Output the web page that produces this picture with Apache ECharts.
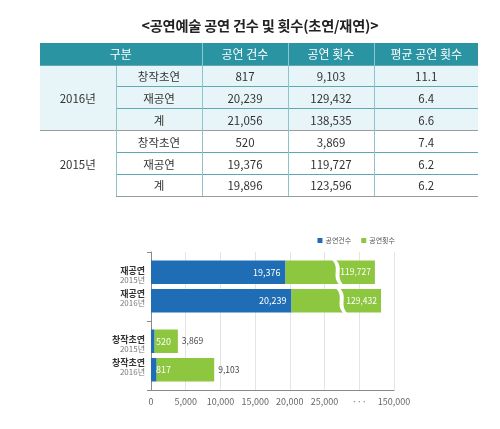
<!DOCTYPE html>
<html><head><meta charset="utf-8">
<script src="https://cdn.jsdelivr.net/npm/echarts@6/dist/echarts.min.js"></script>
<style>
html,body{margin:0;padding:0;background:#fff;width:500px;height:429px;overflow:hidden;font-family:"Noto Sans CJK KR","Noto Sans",sans-serif;}
#chart{position:absolute;left:0;top:0;width:500px;height:429px;}
#title{position:absolute;left:0;width:520px;top:15px;text-align:center;font-size:14.2px;font-weight:bold;color:#222;letter-spacing:-0.2px;line-height:20px;z-index:2;}
#tbl{position:absolute;left:40px;top:43px;border-collapse:collapse;table-layout:fixed;z-index:2;font-size:11.5px;color:#333;}
#tbl td,#tbl th{padding:0;text-align:center;line-height:14px;}
#tbl th{background:#2b94a3;color:#fff;font-weight:normal;font-size:12px;height:21.5px;border-left:1px solid #8cc6cf;}
#tbl th:first-child{border-left:none;}
#tbl td{height:20.9px;border-top:1px solid #5ea8b5;border-left:1px solid #8fc3cc;}
#tbl tr.sec td{border-top:1px solid #9c9c9c;}
#tbl tr.y2016 td{background:#e7f5f8;}
#tbl tr.last td{border-bottom:1.5px solid #9c9c9c;}
#tbl td.yr{border-left:none;}
</style></head>
<body>
<div id="chart"></div>
<div id="title"></div>
<table id="tbl"></table>
<script>
// ---- table data ----
const tableTitle = '<공연예술 공연 건수 및 횟수(초연/재연)>';
const tableHeader = ['구분', '공연 건수', '공연 횟수', '평균 공연 횟수'];
const tableYears = ['2016년', '2015년'];
const tableRowNames = ['창작초연', '재공연', '계'];
const tableCount2016 = ['817', '20,239', '21,056'];
const tableTimes2016 = ['9,103', '129,432', '138,535'];
const tableAvg2016 = ['11.1', '6.4', '6.6'];
const tableCount2015 = ['520', '19,376', '19,896'];
const tableTimes2015 = ['3,869', '119,727', '123,596'];
const tableAvg2015 = ['7.4', '6.2', '6.2'];

// ---- chart data ----
const categories = ['창작초연', '재공연'];
const years = ['2015', '2016'];
const count2015 = [520, 19376];
const count2016 = [817, 20239];
const times2015 = [3869, 119727];
const times2016 = [9103, 129432];
const xTickLabels = ['0', '5,000', '10,000', '15,000', '20,000', '25,000', '···', '150,000'];
const seriesNames = ['공연건수', '공연횟수'];

// build table
document.getElementById('title').textContent = tableTitle;
const tbl = document.getElementById('tbl');
const widths = [76, 86, 86, 86, 104];
let html = '<colgroup>' + widths.map(w => `<col style="width:${w}px">`).join('') + '</colgroup>';
html += `<tr><th colspan="2">${tableHeader[0]}</th><th>${tableHeader[1]}</th><th>${tableHeader[2]}</th><th>${tableHeader[3]}</th></tr>`;
const sections = [
  [tableYears[0], tableCount2016, tableTimes2016, tableAvg2016, 'y2016'],
  [tableYears[1], tableCount2015, tableTimes2015, tableAvg2015, 'y2015']
];
sections.forEach((s, si) => {
  tableRowNames.forEach((rn, ri) => {
    let cls = s[4];
    if (ri === 0 && si > 0) cls += ' sec';
    if (si === sections.length - 1 && ri === tableRowNames.length - 1) cls += ' last';
    html += `<tr class="${cls}">`;
    if (ri === 0) html += `<td class="yr" rowspan="3">${s[0]}</td>`;
    html += `<td>${rn}</td><td>${s[1][ri]}</td><td>${s[2][ri]}</td><td>${s[3][ri]}</td></tr>`;
  });
});
tbl.innerHTML = html;

// ---- broken-axis scale ----
const BREAK_AT = 26600;      // where the visible break sits
const HIGH_FROM = 95000;     // real value mapped to the '···' tick
const HIGH_TO = 150000;      // real value mapped to the last tick
function disp(v) {
  if (v <= BREAK_AT) return v;
  return 30000 + (v - HIGH_FROM) / (HIGH_TO - HIGH_FROM) * 5000;
}
const BLUE = '#1f6db5', GREEN = '#8dc63f';
const FONT = '"Noto Sans CJK KR", sans-serif';
const BAR_W = 23.5, BAR_GAP = 5;

function blueSeries(counts, stack) {
  return {
    name: seriesNames[0], type: 'bar', stack: stack, barWidth: BAR_W, barGap: (BAR_GAP / BAR_W * 100) + '%',
    itemStyle: { color: BLUE },
    data: counts.map(c => ({
      value: c,
      label: {
        show: true, position: c > 5000 ? 'insideRight' : 'insideLeft', distance: 5,
        color: '#fff', fontSize: 9, fontFamily: FONT,
        formatter: () => c.toLocaleString('en-US')
      }
    }))
  };
}
function greenSeries(counts, times, stack) {
  return {
    name: seriesNames[1], type: 'bar', stack: stack, barWidth: BAR_W, barGap: (BAR_GAP / BAR_W * 100) + '%',
    itemStyle: { color: GREEN },
    data: times.map((t, i) => ({
      value: disp(t) - counts[i],
      label: {
        show: true, position: t > BREAK_AT ? 'insideRight' : 'right', distance: 4,
        color: t > BREAK_AT ? '#fff' : '#444', fontSize: 8.5, fontFamily: FONT,
        formatter: () => t.toLocaleString('en-US')
      }
    }))
  };
}

const chart = echarts.init(document.getElementById('chart'), null, { renderer: 'canvas' });
const breakData = categories.map((c, i) => [BREAK_AT, i, times2015[i] > BREAK_AT && times2016[i] > BREAK_AT ? 1 : 0]).filter(d => d[2]);

chart.setOption({
  animation: false,
  backgroundColor: 'transparent',
  legend: {
    data: seriesNames, right: 100, top: 232, icon: 'rect', itemWidth: 5, itemHeight: 5, itemGap: 10,
    textStyle: { fontSize: 7, color: '#555', fontFamily: FONT, padding: [0, 0, 0, -2] }
  },
  grid: { left: 151, right: 106, top: 252, bottom: 39, containLabel: false },
  xAxis: {
    type: 'value', min: 0, max: 35000, interval: 5000,
    axisLine: { show: true, lineStyle: { color: '#8a8a8a' } },
    axisTick: { show: false },
    splitLine: { show: true, lineStyle: { color: '#e4e4e4' } },
    axisLabel: { color: '#666', fontSize: 9, fontFamily: FONT, margin: 7, formatter: (v, i) => xTickLabels[i] }
  },
  yAxis: {
    type: 'category', data: categories,
    axisLine: { show: true, lineStyle: { color: '#8a8a8a' } },
    axisTick: { show: true, length: 4, lineStyle: { color: '#8a8a8a' } },
    axisLabel: {
      margin: 6, align: 'right',
      formatter: (v) => `{n|${v}}\n{y|${years[0]}년}\n{g|}\n{n|${v}}\n{y|${years[1]}년}`,
      rich: {
        n: { fontSize: 9, fontWeight: 'bold', color: '#333', lineHeight: 9.5, fontFamily: FONT, align: 'right' },
        y: { fontSize: 8, color: '#777', lineHeight: 9, fontFamily: FONT, align: 'right' },
        g: { lineHeight: 4.5, fontSize: 4 }
      }
    }
  },
  series: [
    blueSeries(count2015, 's2015'),
    greenSeries(count2015, times2015, 's2015'),
    blueSeries(count2016, 's2016'),
    greenSeries(count2016, times2016, 's2016'),
    {
      type: 'custom', name: 'break', z: 10, silent: true,
      encode: { x: 0, y: 1 },
      data: breakData,
      renderItem: (params, api) => {
        const p = api.coord([api.value(0), api.value(1)]);
        const off = (BAR_W + BAR_GAP) / 2;
        const children = [-off, off].map((o, k) => {
          const cx = p[0] + k * 4;
          const top = p[1] + o - BAR_W / 2 - 1, bot = p[1] + o + BAR_W / 2 + 1, h = bot - top;
          const w = 4;
          const d = `M${cx - 4},${top} C${cx + 5},${top + h * 0.35} ${cx - 5},${bot - h * 0.35} ${cx + 4},${bot} ` +
                    `L${cx + 4 + w},${bot} C${cx - 5 + w},${bot - h * 0.35} ${cx + 5 + w},${top + h * 0.35} ${cx - 4 + w},${top} Z`;
          return { type: 'path', shape: { pathData: d }, style: { fill: '#fff' } };
        });
        return { type: 'group', children };
      }
    }
  ]
});
</script>
</body></html>
